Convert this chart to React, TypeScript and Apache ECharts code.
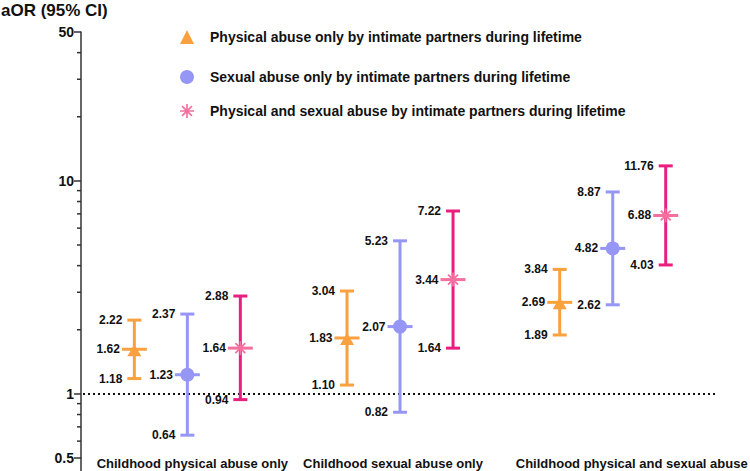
import React, { useEffect, useRef } from 'react';
import * as echarts from 'echarts';

const categories = [
  'Childhood physical abuse only',
  'Childhood sexual abuse only',
  'Childhood physical and sexual abuse',
];
const seriesNames = [
  'Physical abuse only by intimate partners during lifetime',
  'Sexual abuse only by intimate partners during lifetime',
  'Physical and sexual abuse by intimate partners during lifetime',
];
const physicalMean = [1.62, 1.83, 2.69];
const physicalLow = [1.18, 1.1, 1.89];
const physicalHigh = [2.22, 3.04, 3.84];
const sexualMean = [1.23, 2.07, 4.82];
const sexualLow = [0.64, 0.82, 2.62];
const sexualHigh = [2.37, 5.23, 8.87];
const bothMean = [1.64, 3.44, 6.88];
const bothLow = [0.94, 1.64, 4.03];
const bothHigh = [2.88, 7.22, 11.76];
const yMin = 0.5;
const yMax = 50;
const minorTicks = [0.6, 0.7, 0.8, 0.9, 2, 3, 4, 5, 6, 7, 8, 9, 20, 30, 40];
const referenceValue = 1;
const yTitle = 'aOR (95% CI)';

const FONT = '"Liberation Sans", Arial, Helvetica, sans-serif';
const ORANGE = '#F9A03F';
const BLUE = '#9696F7';
const PINK_BAR = '#E91E7E';
const PINK_MARK = '#F4709F';
const STAR_PATH =
  'path://M0 8.8L20 8.8L20 11.2L0 11.2Z M8.8 0L11.2 0L11.2 20L8.8 20Z M3.78 2.08L17.92 16.22L16.22 17.92L2.08 3.78Z M16.22 2.08L17.92 3.78L3.78 17.92L2.08 16.22Z';

const build = (mean: number[], low: number[], high: number[]) =>
  mean.map((m, i) => [i, m, low[i], high[i]]);

const labelFont = `bold 12px ${FONT}`;

function makeRender(offset: number, barColor: string, markColor: string, shape: string) {
  return (params: any, api: any) => {
    const ci = api.value(0);
    const m = api.value(1);
    const lo = api.value(2);
    const hi = api.value(3);
    const pm = api.coord([ci, m]);
    const pl = api.coord([ci, lo]);
    const ph = api.coord([ci, hi]);
    const x = pm[0] + offset;
    const ym = pm[1];
    const children: any[] = [
      { type: 'line', shape: { x1: x, y1: ph[1], x2: x, y2: pl[1] }, style: { stroke: barColor, lineWidth: 3 } },
      { type: 'line', shape: { x1: x - 7, y1: ph[1], x2: x + 7, y2: ph[1] }, style: { stroke: barColor, lineWidth: 3 } },
      { type: 'line', shape: { x1: x - 7, y1: pl[1], x2: x + 7, y2: pl[1] }, style: { stroke: barColor, lineWidth: 3 } },
      { type: 'line', shape: { x1: x - 12.5, y1: ym, x2: x + 12.5, y2: ym }, style: { stroke: markColor, lineWidth: 3 } },
    ];
    if (shape === 'triangle') {
      children.push({
        type: 'polygon',
        shape: { points: [[x, ym - 5], [x + 7, ym + 7], [x - 7, ym + 7]] },
        style: { fill: markColor },
      });
    } else if (shape === 'circle') {
      children.push({ type: 'circle', shape: { cx: x, cy: ym, r: 7 }, style: { fill: markColor } });
    } else {
      const r = 7;
      const d = r * Math.SQRT1_2;
      [[r, 0], [0, r], [d, d], [d, -d]].forEach(([dx, dy]) => {
        children.push({
          type: 'line',
          shape: { x1: x - dx, y1: ym - dy, x2: x + dx, y2: ym + dy },
          style: { stroke: markColor, lineWidth: 1.8 },
        });
      });
    }
    const txt = (v: number, y: number, dx: number) => ({
      type: 'text',
      style: {
        text: v.toFixed(2),
        x: x - dx,
        y,
        align: 'right',
        verticalAlign: 'middle',
        font: labelFont,
        fill: '#111',
      },
    });
    children.push(txt(hi, ph[1], 12));
    children.push(txt(m, ym, 14.5));
    children.push(txt(lo, pl[1], 12));
    return { type: 'group', children };
  };
}

const legendBase = {
  left: 180,
  orient: 'horizontal',
  padding: 0,
  itemWidth: 14,
  itemHeight: 14,
  selectedMode: false,
  textStyle: { fontFamily: FONT, fontWeight: 'bold', fontSize: 14, color: '#111', padding: [0, 0, 0, 11] },
};

export default function App() {
  const ref = useRef<HTMLDivElement>(null);
  useEffect(() => {
    if (!ref.current) return;
    const chart = echarts.init(ref.current, null, { renderer: 'svg' });
    const option: any = {
      animation: false,
      backgroundColor: '#fff',
      title: {
        text: yTitle,
        left: 1,
        top: 2,
        padding: 0,
        textStyle: { fontFamily: FONT, fontWeight: 'bold', fontSize: 17, color: '#111' },
      },
      legend: [
        { ...legendBase, top: 30, data: [{ name: seriesNames[0], icon: 'triangle' }] },
        { ...legendBase, top: 70, data: [{ name: seriesNames[1], icon: 'circle' }] },
        { ...legendBase, top: 104, data: [{ name: seriesNames[2], icon: STAR_PATH }] },
      ],
      grid: { left: 81, right: 27, top: 32, bottom: 13, containLabel: false },
      xAxis: {
        type: 'category',
        data: categories,
        axisLine: { show: false },
        axisTick: { show: false },
        axisLabel: {
          interval: 0,
          margin: -1,
          formatter: (v: string, i: number) => `{c${i}|${v}}`,
          rich: {
            c0: { fontFamily: FONT, fontWeight: 'bold', fontSize: 13, color: '#111', padding: [0, 0, 0, 10] },
            c1: { fontFamily: FONT, fontWeight: 'bold', fontSize: 13, color: '#111', padding: [0, 14, 0, 0] },
            c2: { fontFamily: FONT, fontWeight: 'bold', fontSize: 13, color: '#111', padding: [0, 0, 0, 38] },
          },
        },
      },
      yAxis: {
        type: 'log',
        logBase: 10,
        min: yMin,
        max: yMax,
        axisLine: { show: true, lineStyle: { color: '#333', width: 1.5 } },
        axisTick: { show: true, length: 7, lineStyle: { color: '#333', width: 1.5 } },
        splitLine: { show: false },
        axisLabel: {
          margin: 7,
          fontFamily: FONT,
          fontWeight: 'bold',
          fontSize: 14,
          color: '#111',
          formatter: (v: number) => String(+Number(v).toPrecision(3)),
        },
      },
      series: [
        {
          type: 'custom',
          name: 'minorTicks',
          z: 1,
          silent: true,
          data: minorTicks.map((v) => [0, v]),
          encode: { x: 0, y: 1 },
          renderItem: (params: any, api: any) => {
            const p = api.coord([0, api.value(1)]);
            const cs = params.coordSys;
            return {
              type: 'line',
              shape: { x1: cs.x - 4, y1: p[1], x2: cs.x, y2: p[1] },
              style: { stroke: '#333', lineWidth: 1.5 },
            };
          },
        },
        {
          type: 'custom',
          name: 'reference',
          z: 1,
          silent: true,
          data: [[0, referenceValue]],
          encode: { x: 0, y: 1 },
          renderItem: (params: any, api: any) => {
            const p = api.coord([0, api.value(1)]);
            const cs = params.coordSys;
            return {
              type: 'group',
              children: [
                {
                  type: 'line',
                  shape: { x1: cs.x + 2, y1: p[1], x2: cs.x + cs.width - 2, y2: p[1] },
                  style: { stroke: '#111', lineWidth: 2, lineDash: [2, 3] },
                },
                {
                  type: 'line',
                  shape: { x1: cs.x, y1: cs.y + cs.height, x2: cs.x, y2: cs.y + cs.height + 13 },
                  style: { stroke: '#333', lineWidth: 1.5 },
                },
              ],
            };
          },
        },
        {
          type: 'custom',
          name: seriesNames[0],
          z: 3,
          itemStyle: { color: ORANGE },
          data: build(physicalMean, physicalLow, physicalHigh),
          encode: { x: 0, y: [1, 2, 3] },
          renderItem: makeRender(-53, ORANGE, ORANGE, 'triangle'),
        },
        {
          type: 'custom',
          name: seriesNames[1],
          z: 3,
          itemStyle: { color: BLUE },
          data: build(sexualMean, sexualLow, sexualHigh),
          encode: { x: 0, y: [1, 2, 3] },
          renderItem: makeRender(0, BLUE, BLUE, 'circle'),
        },
        {
          type: 'custom',
          name: seriesNames[2],
          z: 3,
          itemStyle: { color: PINK_MARK },
          data: build(bothMean, bothLow, bothHigh),
          encode: { x: 0, y: [1, 2, 3] },
          renderItem: makeRender(53, PINK_BAR, PINK_MARK, 'star'),
        },
      ],
    };
    chart.setOption(option);
    return () => chart.dispose();
  }, []);
  return (
    <div
      ref={ref}
      style={{ position: 'fixed', left: 0, top: 0, width: 750, height: 471 }}
    />
  );
}
